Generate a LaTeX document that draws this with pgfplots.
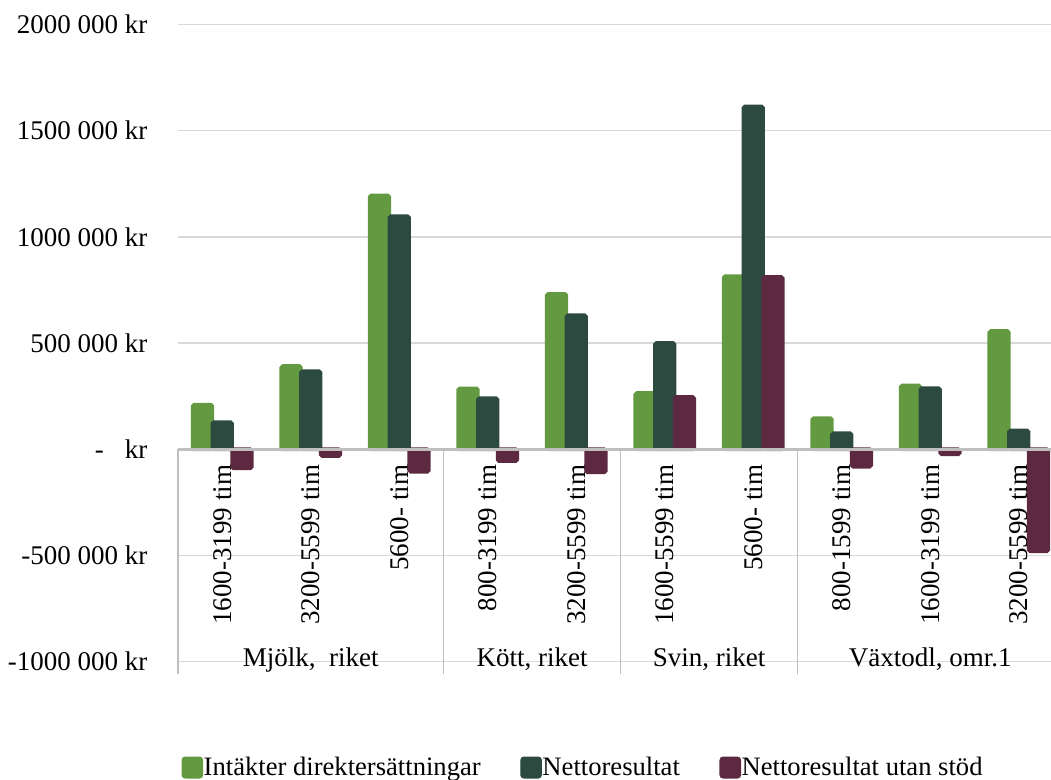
\documentclass[border=0pt]{standalone}
\usepackage{fontspec}
\setmainfont{Liberation Serif}
\usepackage{pgfplots}
\pgfplotsset{compat=1.18}
\definecolor{cA}{HTML}{629941}
\definecolor{cB}{HTML}{2D4A40}
\definecolor{cC}{HTML}{5D2941}
\definecolor{gridc}{HTML}{D9D9D9}
\definecolor{axc}{HTML}{BFBFBF}
\begin{document}
\begin{tikzpicture}
\useasboundingbox (0,0) rectangle (525.5bp,390bp);
\begin{axis}[
  at={(89bp,59.15bp)}, anchor=south west,
  scale only axis, width=442.5bp, height=318.6bp,
  xmin=0, xmax=10, ymin=-1000000, ymax=2000000,
  scaled y ticks=false,
  axis line style={draw=none}, major tick length=0pt,
  ytick={-1000000,-500000,0,500000,1000000,1500000,2000000},
  yticklabels={-1000 000 kr, -500 000 kr, {-\hspace{10.5bp}kr}, 500 000 kr, 1000 000 kr, 1500 000 kr, 2000 000 kr},
  ymajorgrids, grid style={gridc, line width=0.75bp},
  xtick={0.5,1.5,2.5,3.5,4.5,5.5,6.5,7.5,8.5,9.5},
  xticklabels={1600-3199 tim, 3200-5599 tim, 5600- tim, 800-3199 tim, 3200-5599 tim, 1600-5599 tim, 5600- tim, 800-1599 tim, 1600-3199 tim, 3200-5599 tim},
  xticklabel style={rotate=90, anchor=east, inner sep=0pt},
  xticklabel shift=-98.6bp,
  yticklabel style={anchor=east, inner sep=0pt},
  yticklabel shift=15.15bp,
  tick label style={font=\fontsize{13.5bp}{16bp}\selectfont},
  ybar=0pt, bar width=9.85bp,
  clip=false,
  legend columns=3,
  legend image code/.code={\draw[#1, line width=0.6bp, rounded corners=1.5bp] (0.3bp,-5.2bp) rectangle (10.5bp,5.2bp);},
  legend style={at={(0.004,-0.1661)}, anchor=west, draw=none, fill=none, inner sep=0pt, outer sep=0pt,
    font=\fontsize{13.3bp}{16bp}\selectfont, nodes={inner sep=0.3bp},
    /tikz/every even column/.append style={column sep=19.5bp}},
]
\addplot[fill=cA, draw=cA, line width=1.8bp, rounded corners=0.8bp] coordinates {(0.5,210000)(1.5,392000)(2.5,1195000)(3.5,287000)(4.5,732000)(5.5,265000)(6.5,815000)(7.5,147000)(8.5,301000)(9.5,557000)};
\addplot[fill=cB, draw=cB, line width=1.8bp, rounded corners=0.8bp] coordinates {(0.5,128000)(1.5,368000)(2.5,1098000)(3.5,241000)(4.5,631000)(5.5,501000)(6.5,1614000)(7.5,76000)(8.5,288000)(9.5,89000)};
\addplot[fill=cC, draw=cC, line width=1.8bp, rounded corners=0.8bp] coordinates {(0.5,-90000)(1.5,-32000)(2.5,-106000)(3.5,-56000)(4.5,-109000)(5.5,246000)(6.5,812000)(7.5,-82000)(8.5,-24000)(9.5,-480000)};
\legend{Intäkter direktersättningar, Nettoresultat, Nettoresultat utan stöd}
\draw[axc, line width=0.75bp] (axis cs:0,0) -- (axis cs:0,-1058000);
\draw[axc, line width=0.75bp] (axis cs:3,0) -- (axis cs:3,-1058000);
\draw[axc, line width=0.75bp] (axis cs:5,0) -- (axis cs:5,-1058000);
\draw[axc, line width=0.75bp] (axis cs:7,0) -- (axis cs:7,-1058000);
\draw[axc, line width=0.75bp] (axis cs:10,0) -- (axis cs:10,-1058000);
\draw[axc, line width=1.35bp] (axis cs:0,0) -- (axis cs:10,0);
\begin{scope}[font=\fontsize{13.5bp}{16bp}\selectfont]
\node[anchor=base, yshift=-2.4bp] at (axis cs:1.5,-1000000) {Mjölk,\ \ riket};
\node[anchor=base, yshift=-2.4bp] at (axis cs:4,-1000000) {Kött, riket};
\node[anchor=base, yshift=-2.4bp] at (axis cs:6,-1000000) {Svin, riket};
\node[anchor=base, yshift=-2.4bp] at (axis cs:8.5,-1000000) {Växtodl, omr.1};
\end{scope}
\end{axis}
\end{tikzpicture}
\end{document}
